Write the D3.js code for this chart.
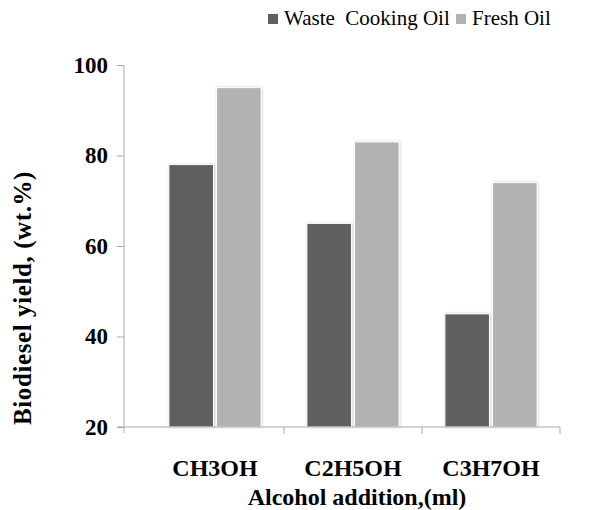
<!DOCTYPE html>
<html>
<head>
<meta charset="utf-8">
<script src="https://cdn.jsdelivr.net/npm/d3@7"></script>
<style>
  html, body { margin: 0; padding: 0; background: #ffffff; }
  svg { display: block; }
</style>
</head>
<body>
<svg id="chart" width="598" height="510"></svg>
<script>
// Biodiesel yield by alcohol type, waste vs fresh oil
const categories = ["CH3OH", "C2H5OH", "C3H7OH"];
const seriesNames = ["Waste  Cooking Oil", "Fresh Oil"];
const wasteOil = [78, 65, 45];
const freshOil = [95, 83, 74];
const yTicks = [20, 40, 60, 80, 100];
const colors = ["#606060", "#b2b2b2"];

const SERIF = "'Liberation Serif', 'Times New Roman', serif";
const AXIS = "#a8a8a8";

const svg = d3.select("#chart");
const yAxisX = 124;            // vertical axis position
const bandLeft = 146, bandRight = 560;
const plotTop = 65, plotBottom = 427;

const defs = svg.append("defs");
const glow = defs.append("filter").attr("id", "glow")
  .attr("x", "-20%").attr("y", "-5%").attr("width", "140%").attr("height", "110%");
glow.append("feDropShadow").attr("dx", 0.5).attr("dy", 0).attr("stdDeviation", 1.3)
  .attr("flood-color", "#000").attr("flood-opacity", 0.2);

const x0 = d3.scaleBand().domain(categories).range([bandLeft, bandRight]);
const x1 = d3.scaleBand().domain([0, 1]).range([0, x0.bandwidth()])
  .paddingInner(0.065).paddingOuter(0.48);
const y = d3.scaleLinear().domain([20, 100]).range([plotBottom, plotTop]);

const rows = categories.map((c, i) => ({ cat: c, vals: [wasteOil[i], freshOil[i]] }));

// bars
const grp = svg.selectAll(".grp").data(rows).enter().append("g")
  .attr("transform", d => `translate(${x0(d.cat)},0)`);
grp.selectAll("rect").data(d => d.vals.map((v, k) => ({ v, k }))).enter().append("rect")
  .attr("x", d => x1(d.k))
  .attr("y", d => y(d.v))
  .attr("width", x1.bandwidth())
  .attr("height", d => plotBottom - y(d.v))
  .attr("fill", d => colors[d.k])
  .attr("stroke", "#ffffff")
  .attr("stroke-width", 1)
  .attr("filter", "url(#glow)");

// y axis
const yAxis = svg.append("g").attr("transform", `translate(${yAxisX},0)`)
  .call(d3.axisLeft(y).tickValues(yTicks).tickSize(7).tickPadding(9).tickFormat(d3.format("d")));
yAxis.attr("font-family", SERIF);
yAxis.select(".domain").attr("stroke", AXIS).attr("d", `M0,${plotTop}V${plotBottom + 6}`);
yAxis.selectAll(".tick line").attr("stroke", AXIS);
yAxis.selectAll(".tick text")
  .attr("font-family", SERIF).attr("font-size", 23).attr("font-weight", "bold").attr("fill", "#000");

// x axis
const xAxis = svg.append("g").attr("transform", `translate(0,${plotBottom})`)
  .call(d3.axisBottom(x0).tickSize(0).tickPadding(32));
xAxis.attr("font-family", SERIF);
xAxis.select(".domain").attr("stroke", AXIS).attr("d", `M${yAxisX - 7},0H${bandRight}`);
xAxis.selectAll(".tick text")
  .attr("font-family", SERIF).attr("font-size", 24).attr("font-weight", "bold").attr("fill", "#000");
// category separators
svg.selectAll(".sep").data(d3.range(1, categories.length + 1)).enter().append("line")
  .attr("x1", i => bandLeft + i * x0.step()).attr("x2", i => bandLeft + i * x0.step())
  .attr("y1", plotBottom).attr("y2", plotBottom + 7)
  .attr("stroke", AXIS);

// axis titles
svg.append("text")
  .attr("x", 357).attr("y", 505)
  .attr("text-anchor", "middle")
  .attr("font-family", SERIF).attr("font-size", 24).attr("font-weight", "bold")
  .text("Alcohol addition,(ml)");
svg.append("text")
  .attr("transform", "translate(31,298) rotate(-90)")
  .attr("text-anchor", "middle")
  .attr("font-family", SERIF).attr("font-size", 25).attr("font-weight", "bold")
  .attr("letter-spacing", 0.6)
  .text("Biodiesel yield, (wt.%)");

// legend
const legendItems = [
  { name: seriesNames[0], color: colors[0], x: 268 },
  { name: seriesNames[1], color: colors[1], x: 456 }
];
const lg = svg.selectAll(".lg").data(legendItems).enter().append("g")
  .attr("transform", d => `translate(${d.x},14)`);
lg.append("rect").attr("width", 10).attr("height", 10).attr("fill", d => d.color);
lg.append("text").attr("x", 16).attr("y", 11)
  .attr("font-family", SERIF).attr("font-size", 21)
  .attr("xml:space", "preserve")
  .text(d => d.name);
</script>
</body>
</html>
